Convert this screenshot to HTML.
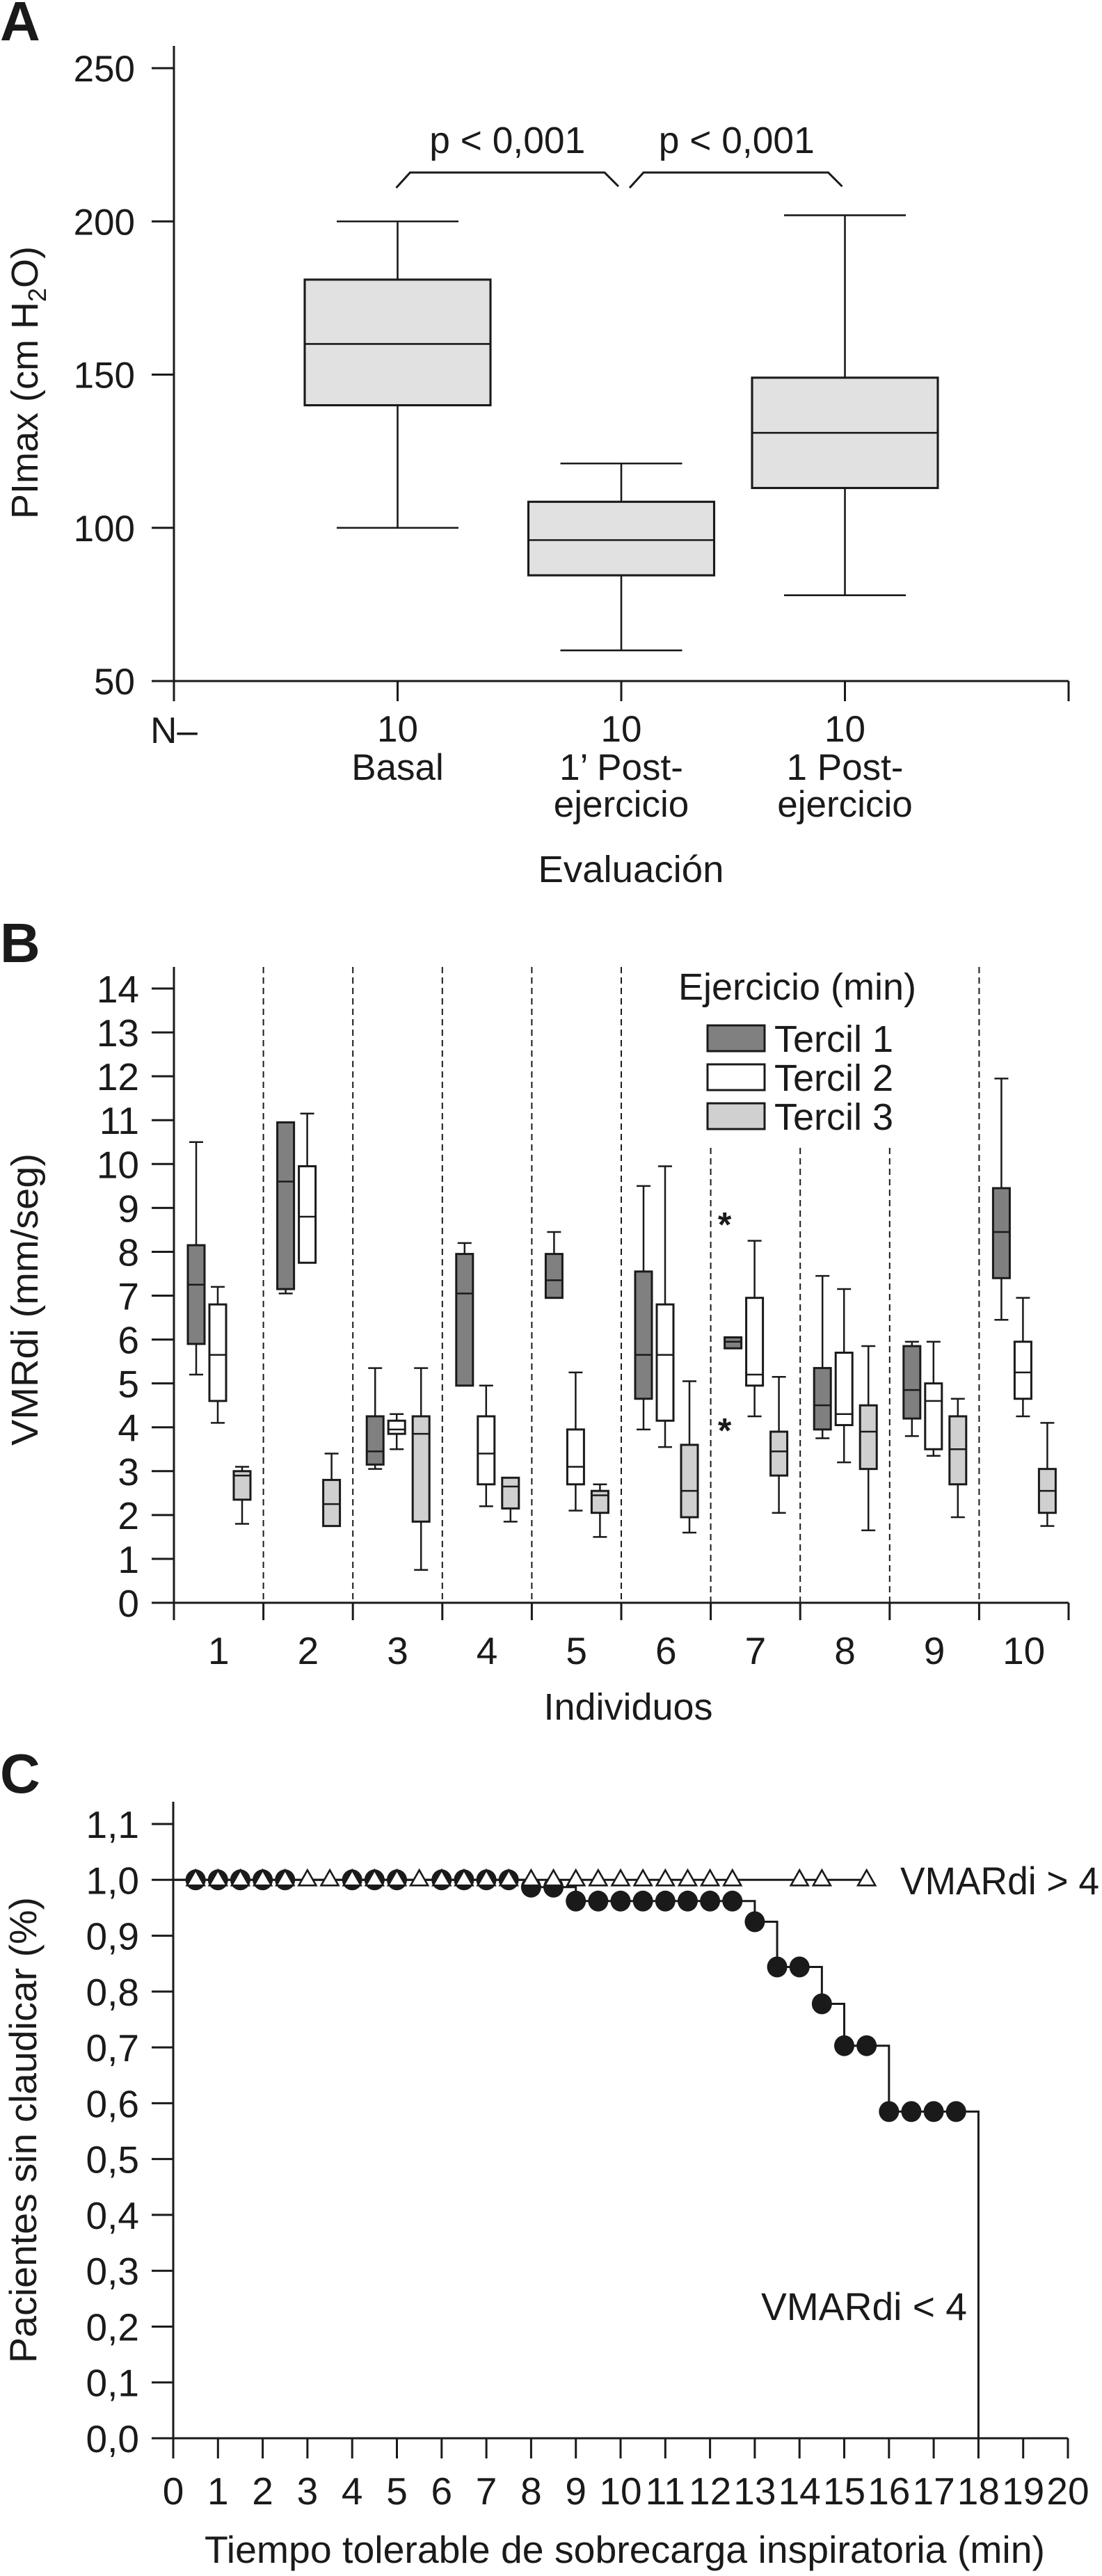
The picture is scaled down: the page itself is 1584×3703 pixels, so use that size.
<!DOCTYPE html>
<html><head><meta charset="utf-8"><title>Figure</title>
<style>
html,body{margin:0;padding:0;background:#fff;}
svg{display:block;font-family:"Liberation Sans",Arial,sans-serif;}
</style></head>
<body>
<svg id="fig" xmlns="http://www.w3.org/2000/svg" width="1584" height="3703" viewBox="0 0 1584 3703">
<rect x="0" y="0" width="1584" height="3703" fill="#fff"/>
<g id="pa"></g>
<g id="pb"></g>
<g id="pc"></g>
</svg>
<script>
// ---------- Panel A data ----------
const aCats = ["Basal", "1’ Post-", "1 Post-"];
const aN = [10, 10, 10];
const aMin = [100, 60, 78];
const aQ1 = [140, 84.5, 113];
const aMed = [160, 96, 131];
const aQ3 = [181, 108.5, 149];
const aMax = [200, 121, 202];
const aTicks = [50, 100, 150, 200, 250];

// ---------- Panel B data ----------
const bInd = [1,2,3,4,5,6,7,8,9,10];
const bTicks = [0,1,2,3,4,5,6,7,8,9,10,11,12,13,14];
const t1Min = [5.2,7.05,3.05,4.95,6.95,3.95,5.8,3.75,3.8,6.45];
const t1Q1  = [5.9,7.15,3.15,4.95,6.95,4.65,5.8,3.95,4.2,7.4];
const t1Med = [7.25,9.6,3.45,7.05,7.35,5.65,5.95,4.5,4.85,8.45];
const t1Q3  = [8.15,10.95,4.25,7.95,7.95,7.55,6.05,5.35,5.85,9.45];
const t1Max = [10.5,10.95,5.35,8.2,8.45,9.5,6.05,7.45,5.95,11.95];
const t2Min = [4.1,7.75,3.5,2.2,2.1,3.55,4.25,3.2,3.35,4.25];
const t2Q1  = [4.6,7.75,3.85,2.7,2.7,4.15,4.95,4.05,3.5,4.65];
const t2Med = [5.65,8.8,3.95,3.4,3.1,5.65,5.2,4.3,4.6,5.25];
const t2Q3  = [6.8,9.95,4.15,4.25,3.95,6.8,6.95,5.7,5.0,5.95];
const t2Max = [7.2,11.15,4.3,4.95,5.25,9.95,8.25,7.15,5.95,6.95];
const t3Min = [1.8,1.75,0.75,1.85,1.5,1.6,2.05,1.65,1.95,1.75];
const t3Q1  = [2.35,1.75,1.85,2.15,2.05,1.95,2.9,3.05,2.7,2.05];
const t3Med = [2.9,2.25,3.85,2.65,2.45,2.55,3.45,3.9,3.5,2.55];
const t3Q3  = [3.0,2.8,4.25,2.85,2.55,3.6,3.9,4.5,4.25,3.05];
const t3Max = [3.1,3.4,5.35,2.85,2.7,5.05,5.15,5.85,4.65,4.1];
const outInd = [7, 7];
const outVal = [8.7, 4.0];

// ---------- Panel C data ----------
const cXTicks = [0,1,2,3,4,5,6,7,8,9,10,11,12,13,14,15,16,17,18,19,20];
const cYTicks = ["0,0","0,1","0,2","0,3","0,4","0,5","0,6","0,7","0,8","0,9","1,0","1,1"];
const lowTimes = [0.5,1,1.5,2,2.5,4,4.5,5,6,6.5,7,7.5,8,8.5,9,9.5,10,10.5,11,11.5,12,12.5,13,13.5,14,14.5,15,15.5,16,16.5,17,17.5];
const lowVals = [1,1,1,1,1,1,1,1,1,1,1,1,0.987,0.987,0.962,0.962,0.962,0.962,0.962,0.962,0.962,0.962,0.925,0.844,0.844,0.778,0.703,0.703,0.585,0.585,0.585,0.585];
const lowEnd = 18;
const highTimes = [0.5,1,1.5,2,2.5,3,3.5,4,4.5,5,5.5,6,6.5,7,7.5,8,8.5,9,9.5,10,10.5,11,11.5,12,12.5,14,14.5,15.5];
const highVals = [1,1,1,1,1,1,1,1,1,1,1,1,1,1,1,1,1,1,1,1,1,1,1,1,1,1,1,1];
const highEnd = 15.5;

const NS = "http://www.w3.org/2000/svg";
const INK = "#1a1a1a";
function mk(parent, tag, attrs, text) {
  const e = document.createElementNS(NS, tag);
  for (const k in attrs) e.setAttribute(k, attrs[k]);
  if (text !== undefined) e.textContent = text;
  parent.appendChild(e);
  return e;
}
function line(p, x1, y1, x2, y2, w, name, dash) {
  const e = mk(p, "line", {x1, y1, x2, y2, stroke: INK, "stroke-width": w || 3});
  if (dash) e.setAttribute("stroke-dasharray", dash);
  
  
  return e;
}
function txt(p, x, y, s, size, anchor, name, extra) {
  const e = mk(p, "text", Object.assign({x, y, "font-size": size, fill: INK, "text-anchor": anchor || "middle"}, extra || {}), s);
  
  
  return e;
}
function box(p, cx, w, capW, yf, mn, q1, md, q3, mx, fill, sw, name) {
  const g = mk(p, "g", {});
  
  
  line(g, cx, yf(mx), cx, yf(q3), sw, name + "-upper-whisker");
  line(g, cx, yf(q1), cx, yf(mn), sw, name + "-lower-whisker");
  if (mx > q3) line(g, cx - capW/2, yf(mx), cx + capW/2, yf(mx), sw, name + "-max-cap");
  if (mn < q1) line(g, cx - capW/2, yf(mn), cx + capW/2, yf(mn), sw, name + "-min-cap");
  const r = mk(g, "rect", {x: cx - w/2, y: yf(q3), width: w, height: Math.max(yf(q1) - yf(q3), 1), fill, stroke: INK, "stroke-width": sw + 0.5});
  
  
  line(g, cx - w/2, yf(md), cx + w/2, yf(md), sw, name + "-median");
}

// ================= PANEL A =================
(function(){
  const g = document.getElementById("pa");
  const X0 = 250, X1 = 1536, Y0 = 979, TOP = 66;
  const ya = v => Y0 - (v - 50) * 4.405;
  const xa = i => X0 + (i + 1) * (X1 - X0) / 4;
  txt(g, 0, 58, "A", 80, "start", "panel-a-label", {"font-weight": "bold"});
  line(g, X0, TOP, X0, Y0, 3, "y-axis-a");
  line(g, X0, Y0, X1, Y0, 3, "x-axis-a");
  aTicks.forEach(t => {
    line(g, 218, ya(t), X0, ya(t), 3, "y-tick-a");
    txt(g, 194, ya(t) + 19, String(t), 53, "end", "y-tick-label-a");
  });
  for (let i = 0; i <= 4; i++) line(g, X0 + i * (X1 - X0) / 4, Y0, X0 + i * (X1 - X0) / 4, 1008, 3, "x-tick-a");
  txt(g, X0, 1068, "N–", 53, "middle", "n-label");
  const sub = ["", "ejercicio", "ejercicio"];
  aCats.forEach((c, i) => {
    const cx = xa(i);
    txt(g, cx, 1066, String(aN[i]), 53, "middle", "n-value");
    txt(g, cx, 1121, c, 53, "middle", "x-category-label");
    if (sub[i]) txt(g, cx, 1174, sub[i], 53, "middle", "x-category-label-line2");
    box(g, cx, 267, 175, ya, aMin[i], aQ1[i], aMed[i], aQ3[i], aMax[i], "#e1e1e1", 2.6, "box-a-" + (i + 1));
  });
  const br = [[0, 1], [1, 2]];
  br.forEach((b, k) => {
    const xl = xa(b[0]) - 2, xr = xa(b[1]) - 4;
    const pth = mk(g, "path", {d: `M${xl + (k ? 14 : 0)} 270 L${xl + 20 + (k ? 14 : 0)} 248 L${xr - 20} 248 L${xr} 268`, fill: "none", stroke: INK, "stroke-width": 3});
    
    
    txt(g, (xl + xr) / 2 + (k ? 8 : 0), 220, "p < 0,001", 54, "middle", "p-value-label", {textLength: 224, lengthAdjust: "spacingAndGlyphs"});
  });
  txt(g, 907, 1268, "Evaluación", 54, "middle", "x-axis-title-a", {textLength: 267, lengthAdjust: "spacingAndGlyphs"});
  const yt = txt(g, 0, 0, "", 54, "middle", "y-axis-title-a", {transform: "translate(54,550) rotate(-90)"});
  yt.appendChild(document.createTextNode("PImax (cm H"));
  mk(yt, "tspan", {"font-size": 36, dy: 12}, "2");
  mk(yt, "tspan", {dy: -12}, "O)");
})();

// ================= PANEL B =================
(function(){
  const g = document.getElementById("pb");
  const X0 = 250, X1 = 1536, Y0 = 2304, TOP = 1390;
  const yb = v => Y0 - v * 63.07;
  const W = (X1 - X0) / 10;
  txt(g, 0, 1383, "B", 80, "start", "panel-b-label", {"font-weight": "bold"});
  for (let i = 1; i < 10; i++) {
    const x = X0 + i * W;
    const top = (i >= 6 && i <= 8) ? 1650 : TOP;
    line(g, x, top, x, Y0, 2, "individual-divider", "9,6");
  }
  line(g, X0, TOP, X0, Y0, 3, "y-axis-b");
  line(g, X0, Y0, X1, Y0, 3, "x-axis-b");
  bTicks.forEach(t => {
    line(g, 218, yb(t), X0, yb(t), 3, "y-tick-b");
    txt(g, 200, yb(t) + 20, String(t), 55, "end", "y-tick-label-b");
  });
  for (let i = 0; i <= 10; i++) line(g, X0 + i * W, Y0, X0 + i * W, 2329, 3, "x-tick-b");
  const offs = [32, 63, 98];
  const fills = ["#808080", "#ffffff", "#d0d0d0"];
  bInd.forEach((ind, i) => {
    const x0 = X0 + i * W;
    txt(g, x0 + W / 2, 2392, String(ind), 55, "middle", "x-tick-label-b");
    box(g, x0 + offs[0], 24, 20, yb, t1Min[i], t1Q1[i], t1Med[i], t1Q3[i], t1Max[i], fills[0], 2.5, "box-tercil1-ind" + ind);
    box(g, x0 + offs[1], 24, 20, yb, t2Min[i], t2Q1[i], t2Med[i], t2Q3[i], t2Max[i], fills[1], 2.5, "box-tercil2-ind" + ind);
    box(g, x0 + offs[2], 24, 20, yb, t3Min[i], t3Q1[i], t3Med[i], t3Q3[i], t3Max[i], fills[2], 2.5, "box-tercil3-ind" + ind);
  });
  outInd.forEach((ind, k) => {
    txt(g, X0 + (ind - 1) * W + offs[0] - 12, yb(outVal[k]) + 22, "*", 50, "middle", "outlier-asterisk", {"font-weight": "bold"});
  });
  const lg = mk(g, "g", {});
  
  
  txt(lg, 1146, 1437, "Ejercicio (min)", 54, "middle", "legend-title");
  const names = ["Tercil 1", "Tercil 2", "Tercil 3"];
  const ly = [1474, 1530, 1586];
  names.forEach((n, k) => {
    const r = mk(lg, "rect", {x: 1017, y: ly[k], width: 82, height: 37, fill: fills[k], stroke: INK, "stroke-width": 3});
    
    
    txt(lg, 1113, ly[k] + 38, n, 54, "start", "legend-entry");
  });
  txt(g, 903, 2472, "Individuos", 54, "middle", "x-axis-title-b", {textLength: 243, lengthAdjust: "spacingAndGlyphs"});
  txt(g, 0, 0, "VMRdi (mm/seg)", 54, "middle", "y-axis-title-b", {transform: "translate(54,1868) rotate(-90)", textLength: 420, lengthAdjust: "spacingAndGlyphs"});
})();

// ================= PANEL C =================
(function(){
  const g = document.getElementById("pc");
  const X0 = 249, X1 = 1535, Y0 = 3505, TOP = 2590;
  const xc = t => X0 + t * (X1 - X0) / 20;
  const yc = v => Y0 - v * 802.7;
  txt(g, 0, 2577, "C", 80, "start", "panel-c-label", {"font-weight": "bold"});
  line(g, X0, TOP, X0, Y0, 3, "y-axis-c");
  line(g, 218, Y0, X1, Y0, 3, "x-axis-c");
  cYTicks.forEach((lab, k) => {
    const v = k / 10;
    line(g, 218, yc(v), X0, yc(v), 3, "y-tick-c");
    txt(g, 200, yc(v) + 20, lab, 55, "end", "y-tick-label-c");
  });
  cXTicks.forEach(t => {
    line(g, xc(t), Y0, xc(t), 3534, 3, "x-tick-c");
    txt(g, xc(t), 3600, String(t), 55, "middle", "x-tick-label-c");
  });
  let d = `M${xc(0)} ${yc(1)}`;
  let cur = 1;
  lowTimes.forEach((t, i) => {
    if (lowVals[i] !== cur) { d += ` L${xc(t)} ${yc(cur)} L${xc(t)} ${yc(lowVals[i])}`; cur = lowVals[i]; }
  });
  d += ` L${xc(lowEnd)} ${yc(cur)} L${xc(lowEnd)} ${yc(0)}`;
  const low = mk(g, "path", {d, fill: "none", stroke: INK, "stroke-width": 3});
  
  
  const high = mk(g, "path", {d: `M${xc(0)} ${yc(highVals[0])} L${xc(highEnd)} ${yc(highVals[highVals.length - 1])}`, fill: "none", stroke: INK, "stroke-width": 3});
  
  
  lowTimes.forEach((t, i) => {
    const c = mk(g, "ellipse", {cx: xc(t), cy: yc(lowVals[i]), rx: 14.5, ry: 15, fill: INK});
    
    
  });
  highTimes.forEach((t, i) => {
    const x = xc(t), y = yc(highVals[i]);
    const p = mk(g, "path", {d: `M${x} ${y - 14} L${x + 12.5} ${y + 8} L${x - 12.5} ${y + 8} Z`, fill: "#fff", stroke: INK, "stroke-width": 2.6});
    
    
  });
  txt(g, 1294, 2723, "VMARdi > 4", 56, "start", "series-label-high", {textLength: 286, lengthAdjust: "spacingAndGlyphs"});
  txt(g, 1390, 3335, "VMARdi < 4", 56, "end", "series-label-low", {textLength: 296, lengthAdjust: "spacingAndGlyphs"});
  txt(g, 898, 3684, "Tiempo tolerable de sobrecarga inspiratoria (min)", 55, "middle", "x-axis-title-c", {textLength: 1208, lengthAdjust: "spacingAndGlyphs"});
  txt(g, 0, 0, "Pacientes sin claudicar (%)", 55, "middle", "y-axis-title-c", {transform: "translate(52,3062) rotate(-90)", textLength: 670, lengthAdjust: "spacingAndGlyphs"});
})();
</script>
</body></html>
